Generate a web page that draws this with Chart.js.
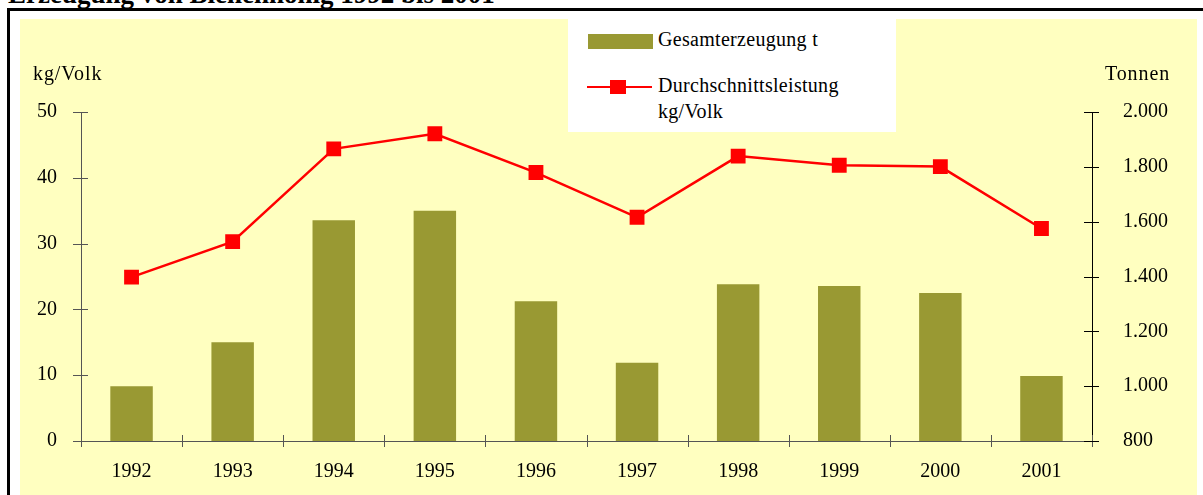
<!DOCTYPE html>
<html lang="de">
<head>
    <meta charset="UTF-8">
    <title>Erzeugung von Bienenhonig 1992 bis 2001</title>
    <script src="https://cdn.jsdelivr.net/npm/chart.js"></script>
    <style>
        body {
            margin: 0;
            padding: 0;
            background-color: #ffffff;
            font-family: "Liberation Serif", "Times New Roman", serif;
            overflow: hidden;
            width: 1203px;
            height: 495px;
            position: relative;
        }
        .title {
            position: absolute;
            left: 8px;
            top: -19px;
            font-size: 27px;
            line-height: 1;
            font-weight: bold;
            white-space: nowrap;
        }
        .frame {
            position: absolute;
            left: 7px;
            top: 8px;
            width: 1220px;
            height: 520px;
            border: 3px solid #000;
        }
        .plot {
            position: absolute;
            left: 20px;
            top: 19px;
            width: 1177px;
            height: 476px;
            background-color: #ffffc0;
        }
        .axis-title {
            position: absolute;
            font-size: 20px;
            letter-spacing: 0.9px;
            top: 62px;
            white-space: nowrap;
        }
        .legend {
            position: absolute;
            left: 568px;
            top: 19px;
            width: 328px;
            height: 113px;
            background-color: #ffffff;
            font-size: 20px;
            letter-spacing: 0.3px;
        }
        .legend .swatch {
            position: absolute;
            left: 20px;
            top: 15px;
            width: 65px;
            height: 15px;
            background-color: #999933;
        }
        .legend .line {
            position: absolute;
            left: 19px;
            top: 67px;
            width: 65px;
            height: 2px;
            background-color: #ff0000;
        }
        .legend .marker {
            position: absolute;
            left: 42px;
            top: 61px;
            width: 16px;
            height: 14px;
            background-color: #ff0000;
        }
        .legend .txt {
            position: absolute;
            left: 90px;
            line-height: 26px;
        }
    </style>
</head>
<body>
    <div class="title">Erzeugung von Bienenhonig 1992 bis 2001</div>
    <div class="frame"></div>
    <div class="plot">
        <canvas id="chart"></canvas>
    </div>
    <div class="axis-title" style="left: 33px;">kg/Volk</div>
    <div class="axis-title" style="left: 1105px;">Tonnen</div>
    <div class="legend">
        <div class="swatch"></div>
        <div class="txt" style="top: 7px;">Gesamterzeugung t</div>
        <div class="line"></div>
        <div class="marker"></div>
        <div class="txt" style="top: 53px;">Durchschnittsleistung<br>kg/Volk</div>
    </div>

    <script>
        const years = ["1992", "1993", "1994", "1995", "1996", "1997", "1998", "1999", "2000", "2001"];
        const gesamtTonnen = [1000, 1160, 1605, 1640, 1310, 1085, 1372, 1365, 1340, 1037];
        const kgProVolk = [24.9, 30.3, 44.4, 46.7, 40.8, 34.0, 43.3, 41.9, 41.7, 32.3];
        const leftTicks = [0, 10, 20, 30, 40, 50];
        const rightTicks = [800, 1000, 1200, 1400, 1600, 1800, 2000];

        const canvasW = 1177, canvasH = 476;
        const canvas = document.getElementById('chart');
        canvas.style.width = canvasW + 'px';
        canvas.style.height = canvasH + 'px';

        function tausender(v) {
            return String(v).replace(/\B(?=(\d{3})+(?!\d))/g, '.');
        }

        // tick marks crossing the axis lines, like the original
        const crossTicks = {
            id: 'crossTicks',
            afterDraw(chart) {
                const ctx = chart.ctx;
                const xs = chart.scales.x, y = chart.scales.y, y1 = chart.scales.y1;
                ctx.save();
                ctx.lineWidth = 1;
                ctx.strokeStyle = '#555';
                ctx.beginPath();
                y.ticks.forEach(t => {
                    const py = Math.round(y.getPixelForValue(t.value)) + 0.5;
                    ctx.moveTo(xs.left - 8, py);
                    ctx.lineTo(xs.left + 7, py);
                });
                const n = years.length;
                for (let i = 0; i <= n; i++) {
                    const px = Math.round(xs.left + i * xs.width / n) + 0.5;
                    ctx.moveTo(px, xs.top - 6);
                    ctx.lineTo(px, xs.top + 6);
                }
                ctx.stroke();
                ctx.strokeStyle = '#000';
                ctx.beginPath();
                y1.ticks.forEach(t => {
                    const py = Math.round(y1.getPixelForValue(t.value)) + 0.5;
                    ctx.moveTo(xs.right - 8, py);
                    ctx.lineTo(xs.right + 7, py);
                });
                ctx.stroke();
                ctx.restore();
            }
        };

        const tickFont = { family: '"Liberation Serif", "Times New Roman", serif', size: 20 };

        new Chart(canvas.getContext('2d'), {
            type: 'bar',
            data: {
                labels: years,
                datasets: [{
                    type: 'line',
                    label: 'Durchschnittsleistung kg/Volk',
                    data: kgProVolk,
                    yAxisID: 'y',
                    borderColor: '#ff0000',
                    borderWidth: 2.5,
                    pointStyle: 'rect',
                    pointRadius: 10.5,
                    pointBackgroundColor: '#ff0000',
                    pointBorderColor: '#ff0000',
                    pointBorderWidth: 0,
                    tension: 0,
                    order: 0
                }, {
                    label: 'Gesamterzeugung t',
                    data: gesamtTonnen,
                    yAxisID: 'y1',
                    backgroundColor: '#999933',
                    barPercentage: 0.42,
                    categoryPercentage: 1.0,
                    order: 1
                }]
            },
            options: {
                responsive: false,
                animation: false,
                devicePixelRatio: 1,
                layout: { padding: { top: 93, left: 0, right: 0, bottom: 0 } },
                plugins: {
                    legend: { display: false },
                    tooltip: { enabled: false }
                },
                scales: {
                    x: {
                        grid: { display: false },
                        border: { display: true, color: '#555', width: 1 },
                        ticks: { font: tickFont, color: '#000', padding: 11, maxRotation: 0 },
                        afterFit(scale) { scale.height = 54; }
                    },
                    y: {
                        position: 'left',
                        min: 0,
                        max: 50,
                        afterBuildTicks(scale) { scale.ticks = leftTicks.map(v => ({ value: v })); },
                        grid: { display: false },
                        border: { display: true, color: '#555', width: 1 },
                        ticks: { font: tickFont, color: '#000', padding: 16 },
                        afterFit(scale) { scale.width = 61; }
                    },
                    y1: {
                        position: 'right',
                        min: 800,
                        max: 2000,
                        afterBuildTicks(scale) { scale.ticks = rightTicks.map(v => ({ value: v })); },
                        grid: { display: false },
                        border: { display: true, color: '#000', width: 1 },
                        ticks: { font: tickFont, color: '#000', padding: 23, callback: v => tausender(v) },
                        afterFit(scale) { scale.width = 105; }
                    }
                }
            },
            plugins: [crossTicks]
        });
    </script>
</body>
</html>
